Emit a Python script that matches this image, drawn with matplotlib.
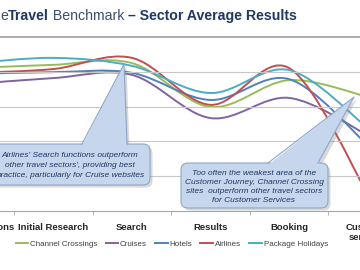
import matplotlib
matplotlib.use('Agg')
import matplotlib.pyplot as plt
import matplotlib.transforms as mtransforms
from matplotlib.path import Path
from matplotlib.patches import PathPatch, FancyBboxPatch, Polygon
from matplotlib.lines import Line2D

plt.rcParams['font.family'] = ['Liberation Sans', 'DejaVu Sans']

# categories of the customer journey
stages = ['First Impressions', 'Initial Research', 'Search', 'Results',
          'Booking', 'Customer\nservices']

# sector averages
channel_crossings = [41.1, 42.0, 42.5, 29.9, 37.6, 32.8]
cruises = [36.5, 38.2, 39.1, 26.7, 32.5, 21.8]
hotels = [39.4, 39.9, 39.7, 31.9, 37.9, 19.0]
airlines = [39.7, 40.8, 44.0, 30.5, 41.1, 5.0]
package_holidays = [42.5, 44.0, 41.7, 33.9, 40.5, 23.9]

series = [
    ('Channel Crossings', channel_crossings, '#9BBB59'),
    ('Cruises', cruises, '#8064A2'),
    ('Hotels', hotels, '#4F81BD'),
    ('Airlines', airlines, '#C0504D'),
    ('Package Holidays', package_holidays, '#4BACC6'),
]

W, H = 360, 270
fig = plt.figure(figsize=(W / 100, H / 100), dpi=100)
# pixel coords, origin top-left
pxT = mtransforms.Affine2D().scale(1 / W, -1 / H).translate(0, 1) + fig.transFigure

# plot area is wider than the picture (cropped slide)
ax = fig.add_axes([-64.25 / W, 59 / H, 471 / W, 174 / H])
ax.set_xlim(-0.5, 5.5)
ax.set_ylim(0, 50)
for s in ['top', 'left', 'right']:
    ax.spines[s].set_visible(False)
ax.spines['bottom'].set_color('#A6A6A6')
ax.set_yticks([10, 20, 30, 40])
ax.tick_params(axis='y', left=False, labelleft=False)
ax.grid(axis='y', color='#C8C8C8', lw=0.8)
ax.axhline(50, color='#A0A0A0', lw=1.2, clip_on=False)
ax.set_xticks(range(len(stages)))
ax.set_xticklabels(stages, fontweight='bold', fontsize=6.8, color='#262626')
ax.tick_params(axis='x', length=0, pad=8.5)
ax.set_xticks([i + 0.5 for i in range(len(stages) - 1)], minor=True)
ax.tick_params(axis='x', which='minor', length=3, color='#A6A6A6', direction='out')


def smooth_path(vals):
    # excel style smoothed line as bezier segments
    pts = list(enumerate(vals))
    n = len(pts)
    verts = [pts[0]]
    codes = [Path.MOVETO]
    for i in range(n - 1):
        p0 = pts[max(i - 1, 0)]
        p1 = pts[i]
        p2 = pts[i + 1]
        p3 = pts[min(i + 2, n - 1)]
        c1 = (p1[0] + (p2[0] - p0[0]) / 6, p1[1] + (p2[1] - p0[1]) / 6)
        c2 = (p2[0] - (p3[0] - p1[0]) / 6, p2[1] - (p3[1] - p1[1]) / 6)
        verts += [c1, c2, p2]
        codes += [Path.CURVE4] * 3
    return Path(verts, codes)


handles = []
for name, vals, col in series:
    ax.add_patch(PathPatch(smooth_path(vals), fill=False, edgecolor=col, lw=1.4,
                           transform=ax.transData, capstyle='round'))
    handles.append(Line2D([], [], color=col, lw=1.4, label=name))

fig.legend(handles=handles, loc='center', bbox_to_anchor=(0.477, 0.096), ncol=5,
           frameon=False, fontsize=5.8, handlelength=1.6, handletextpad=0.2,
           columnspacing=1.0, labelcolor='#404040')

# title made of normal and bold pieces
r = fig.canvas.get_renderer()
x = 0
for txt, wt, col in [('e', 'normal', '#3A4E6E'), ('Travel', 'bold', '#1F3864'),
                     (' Benchmark ', 'normal', '#3A4E6E'),
                     ('\u2013 Sector Average Results', 'bold', '#1F3864')]:
    t = fig.text(x, 16, txt, transform=pxT, fontsize=10.2, fontweight=wt,
                 color=col, va='center', ha='left')
    x += t.get_window_extent(r).width


def callout(x0, y0, x1, y1, base, tip, text, tx, ty, ls):
    fill = '#C6D6EC'
    edge = '#8DA6C8'
    sh = mtransforms.offset_copy(pxT, fig=fig, x=2.5, y=-2.5, units='dots')
    wedge = [(base[0], y0 + 2), (tip[0], tip[1]), (base[1], y0 + 2)]
    fig.add_artist(FancyBboxPatch((x0, y0), x1 - x0, y1 - y0,
                                  boxstyle='round,pad=0,rounding_size=7',
                                  transform=sh, fc='#7F7F7F', ec='none', alpha=0.3, zorder=5))
    fig.add_artist(Polygon(wedge, closed=True, transform=sh, fc='#7F7F7F', ec='none',
                           alpha=0.3, zorder=5))
    fig.add_artist(FancyBboxPatch((x0, y0), x1 - x0, y1 - y0,
                                  boxstyle='round,pad=0,rounding_size=7',
                                  transform=pxT, fc=fill, ec=edge, lw=0.8, zorder=6))
    fig.add_artist(Polygon(wedge, closed=True, transform=pxT, fc=fill, ec='none', zorder=7))
    fig.add_artist(Line2D([base[0], tip[0], base[1]], [y0, tip[1], y0], transform=pxT,
                          color=edge, lw=0.8, zorder=7))
    fig.text(tx, ty, text, transform=pxT, fontsize=6, style='italic', color='#1F3864',
             ha='center', va='center', linespacing=ls, zorder=8)


callout(-12, 144, 150, 185, (82, 127), (124, 64),
        "Airlines' Search functions outperform\nother travel sectors', providing best\n"
        "practice, particularly for Cruise websites", 70, 165.5, 1.55)
callout(181, 163, 328, 208, (268, 318), (354, 97),
        'Too often the weakest area of the\nCustomer Journey, Channel Crossing\n'
        'sites  outperform other travel sectors\nfor Customer Services', 254, 187, 1.35)

fig.savefig('out.png', dpi=100)
